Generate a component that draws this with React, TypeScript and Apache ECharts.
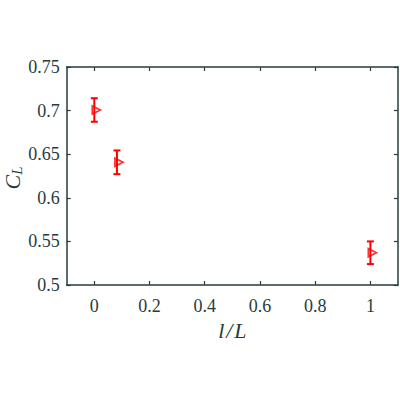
import { useEffect, useRef } from "react";
import * as echarts from "echarts";

const xValues = [0, 0.082, 1];
const clValues = [0.7007, 0.6407, 0.537];
const clErrors = [0.0135, 0.0136, 0.013];
const xTicks = [0, 0.2, 0.4, 0.6, 0.8, 1];

const ink = "#263c3c";
const font = "Liberation Serif";

export default function App() {
  const chartRef = useRef<HTMLDivElement>(null);

  useEffect(() => {
    const myChart = echarts.init(chartRef.current!, null, { renderer: "svg" });

    const points = xValues.map((x, i) => [x, clValues[i]]);
    const bars = xValues.map((x, i) => [x, clValues[i] - clErrors[i], clValues[i] + clErrors[i]]);

    const axisCommon = {
      axisLine: { show: true, onZero: false, lineStyle: { color: ink, width: 1.5 } },
      splitLine: { show: false },
    };

    const option = {
      animation: false,
      textStyle: { fontFamily: font },
      grid: { left: 66.7, top: 67, right: 2, bottom: 115, containLabel: false, outerBoundsMode: "none" },
      graphic: [
        {
          type: "text",
          x: 12,
          y: 178,
          rotation: Math.PI / 2,
          style: {
            text: "{c|C}{s|L}",
            align: "center",
            verticalAlign: "middle",
            rich: {
              c: { fill: ink, fontSize: 22, fontStyle: "italic", fontFamily: font },
              s: { fill: ink, fontSize: 15, fontStyle: "italic", fontFamily: font, padding: [9, 0, 0, 0] },
            },
          },
        },
      ],
      xAxis: [
        {
          type: "value",
          position: "bottom",
          min: -0.1,
          max: 1.1,
          ...axisCommon,
          axisTick: { inside: true, length: 4, customValues: xTicks, lineStyle: { color: ink, width: 1.2 } },
          axisLabel: { customValues: xTicks, color: ink, fontSize: 18, fontFamily: font, margin: 12 },
          name: "l\u200A/\u200AL",
          nameLocation: "middle",
          nameGap: 29,
          nameTextStyle: { color: ink, fontSize: 22, fontStyle: "italic", fontFamily: font },
        },
        {
          type: "value",
          position: "top",
          min: -0.1,
          max: 1.1,
          ...axisCommon,
          axisTick: { inside: true, length: 4, customValues: xTicks, lineStyle: { color: ink, width: 1.2 } },
          axisLabel: { show: false },
        },
      ],
      yAxis: [
        {
          type: "value",
          position: "left",
          min: 0.5,
          max: 0.75,
          interval: 0.05,
          ...axisCommon,
          axisTick: { inside: true, length: 4, lineStyle: { color: ink, width: 1.2 } },
          axisLabel: { color: ink, fontSize: 18, fontFamily: font, margin: 7 },
        },
        {
          type: "value",
          position: "right",
          min: 0.5,
          max: 0.75,
          interval: 0.05,
          ...axisCommon,
          axisTick: { inside: true, length: 4, lineStyle: { color: ink, width: 1.2 } },
          axisLabel: { show: false },
        },
      ],
      series: [
        {
          type: "custom",
          xAxisIndex: 0,
          yAxisIndex: 0,
          data: bars,
          renderItem: (params: any, api: any) => {
            const x = api.coord([api.value(0), api.value(1)])[0];
            const yLow = api.coord([api.value(0), api.value(1)])[1];
            const yHigh = api.coord([api.value(0), api.value(2)])[1];
            const cap = 3.5;
            const style = { stroke: "#ff0000", lineWidth: 2, fill: "none" };
            return {
              type: "group",
              children: [
                { type: "line", shape: { x1: x, y1: yLow, x2: x, y2: yHigh }, style },
                { type: "line", shape: { x1: x - cap, y1: yLow, x2: x + cap, y2: yLow }, style },
                { type: "line", shape: { x1: x - cap, y1: yHigh, x2: x + cap, y2: yHigh }, style },
              ],
            };
          },
          z: 2,
        },
        {
          type: "scatter",
          xAxisIndex: 0,
          yAxisIndex: 0,
          data: points,
          symbol: "triangle",
          symbolRotate: -90,
          symbolSize: 8,
          symbolOffset: [2, 0],
          itemStyle: { color: "rgba(255,255,255,0)", borderColor: "#ff0000", borderWidth: 1.8 },
          z: 3,
        },
      ],
    };

    myChart.setOption(option);

    return () => {
      myChart.dispose();
    };
  }, []);

  return (
    <div
      ref={chartRef}
      style={{ position: "fixed", left: 0, top: 0, width: "400px", height: "400px", background: "#fff" }}
    />
  );
}
